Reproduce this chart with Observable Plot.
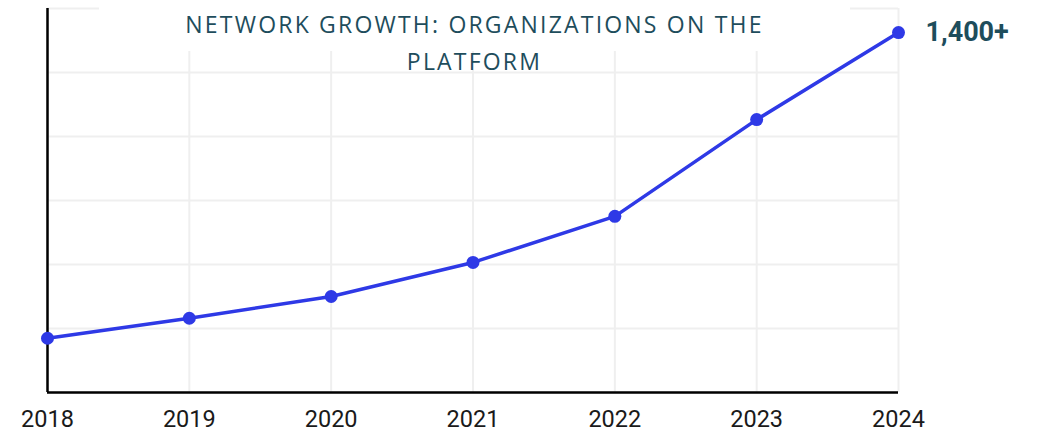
<!DOCTYPE html>
<html>
<head>
<meta charset="utf-8">
<script src="https://cdn.jsdelivr.net/npm/d3@7"></script>
<script src="https://cdn.jsdelivr.net/npm/@observablehq/plot@0.6"></script>
<style>
  html, body { margin: 0; padding: 0; background: #fff; }
  svg { display: block; }
</style>
</head>
<body>
<div id="chart"></div>
<script>
const years = [2018, 2019, 2020, 2021, 2022, 2023, 2024];
const organizations = [212, 290, 375, 508, 688, 1066, 1406];
const yTicks = [0, 250, 500, 750, 1000, 1250, 1500];
const lastLabel = "1,400+";
const titleText = "NETWORK GROWTH: ORGANIZATIONS ON THE\nPLATFORM";

const data = years.map((year, i) => ({ year, value: organizations[i] }));
const last = data[data.length - 1];

const chart = Plot.plot({
  width: 1038,
  height: 433,
  marginLeft: 47,
  marginRight: 140,
  marginTop: 8,
  marginBottom: 41,
  style: { fontFamily: "Roboto, sans-serif", background: "#fff" },
  x: { domain: [2018, 2024], axis: null },
  y: { domain: [0, 1500], axis: null },
  marks: [
    Plot.gridY(yTicks, { stroke: "#efefef", strokeOpacity: 1, strokeWidth: 2 }),
    Plot.gridX(years, { stroke: "#efefef", strokeOpacity: 1, strokeWidth: 2 }),
    Plot.text(years, { x: d => d, frameAnchor: "bottom", lineAnchor: "middle", dy: 27, text: d => String(d), fontSize: 23.5, fontFamily: "Roboto", fill: "#1a1a1a" }),
    Plot.ruleX([2018], { stroke: "#000", strokeWidth: 2.5 }),
    Plot.ruleY([0], { stroke: "#000", strokeWidth: 2.5 }),
    Plot.line(data, { x: "year", y: "value", stroke: "#2e39e6", strokeWidth: 3.5 }),
    Plot.dot(data, { x: "year", y: "value", fill: "#2e39e6", r: 6.5 }),
    Plot.text([last], { x: "year", y: "value", text: () => lastLabel, dx: 27, textAnchor: "start", fontSize: 27, fontFamily: "Roboto", fontWeight: "bold", fill: "#1e4d5c" })
  ]
});

document.getElementById("chart").appendChild(chart);

// white panel behind the title (covers the top grid), then the title
const svg = d3.select(chart);
const cx = 474.5;
svg.insert("rect", "g[aria-label='text']")
  .attr("x", cx - 375.5).attr("y", 6).attr("width", 751).attr("height", 45)
  .attr("fill", "#fff");
const t = svg.append("text")
  .attr("text-anchor", "middle")
  .attr("fill", "#1e4d5c")
  .style("font-family", "'Open Sans', sans-serif")
  .style("font-size", "23px")
  .style("letter-spacing", "2.2px");
titleText.split("\n").forEach((line, i) => {
  t.append("tspan").attr("x", cx).attr("y", 33 + i * 37).text(line);
});
</script>
</body>
</html>
